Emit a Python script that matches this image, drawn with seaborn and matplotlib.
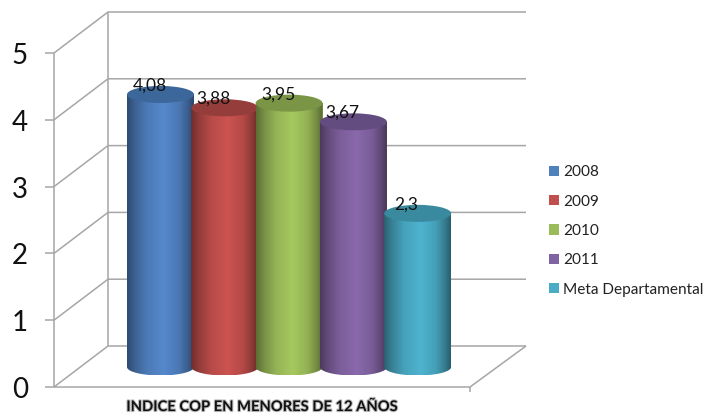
import numpy as np
import pandas as pd
import matplotlib
matplotlib.use('Agg')
import matplotlib.pyplot as plt
import matplotlib.patheffects as pe
from matplotlib.colors import LinearSegmentedColormap, to_rgb
from matplotlib.patches import Ellipse, PathPatch
from matplotlib.path import Path
import seaborn as sns

series = ['2008', '2009', '2010', '2011', 'Meta Departamental']
values = [4.08, 3.88, 3.95, 3.67, 2.3]
y_ticks = [0, 1, 2, 3, 4, 5]
title = 'INDICE COP EN MENORES DE 12 AÑOS'

legend_colors = ['#4F81BD', '#C0504D', '#9BBB59', '#8064A2', '#4BACC6']
body_colors = ['#5588CC', '#CC5350', '#A6C85F', '#8A69AC', '#4EB4D0']
top_colors = ['#3C679B', '#953D3B', '#7A9546', '#634D80', '#3A8A9F']

sns.set_theme(style='white')
plt.rcParams['font.family'] = ['Lato', 'DejaVu Sans']

W, H = 708, 416
PX_X = 64.3   # px per category
PX_Y = 66.8   # px per unit
X0 = 160.5    # px of first category
Y0 = 367      # px of value 0 at the cylinder base

fig = plt.figure(figsize=(W / 100, H / 100), dpi=100, facecolor='white')
ax = fig.add_axes([0, 0, 1, 1])

df = pd.DataFrame({'serie': series, 'valor': values})
sns.barplot(data=df, x='serie', y='valor', hue='serie', hue_order=series,
            palette=legend_colors, saturation=1, dodge=False, width=67 / PX_X,
            linewidth=0, zorder=2, legend=True, ax=ax)


def px_x(p):
    return (p - X0) / PX_X


def px_y(p):
    return (Y0 - p) / PX_Y


# wall and floor frame
grid_kw = dict(color='#A6A6A6', lw=1.1, zorder=1, solid_capstyle='butt')
front_l, back_l, back_r, front_r = px_x(54), px_x(108), px_x(526), px_x(470)
front_off, back_off = px_y(387), px_y(346)
for t in y_ticks:
    ax.plot([front_l, back_l, back_r], [t + front_off, t + back_off, t + back_off], **grid_kw)
    ax.plot([px_x(45), front_l], [t + front_off] * 2, **grid_kw)
    ax.text(px_x(20), t + front_off - 3 / PX_Y, str(t), fontsize=20, color='#111111',
            ha='center', va='center')
ax.plot([front_l, front_l], [y_ticks[0] + front_off, y_ticks[-1] + front_off], **grid_kw)
ax.plot([back_l, back_l], [y_ticks[0] + back_off, y_ticks[-1] + back_off], **grid_kw)
ax.plot([front_l, front_r, back_r], [front_off, front_off, back_off], **grid_kw)
ax.plot([front_r, front_r], [front_off, px_y(392)], **grid_kw)

# cylinders on top of the seaborn bars
semi = 8.5 / PX_Y
stops = [0, 0.12, 0.3, 0.55, 0.78, 0.92, 1]
shade = [0.55, 0.72, 0.9, 1.0, 0.88, 0.68, 0.52]
bars = [p for p in ax.patches if p.get_height() > 0]
bars = sorted(bars, key=lambda p: p.get_x())
for i, bar in enumerate(bars):
    x0, w, h = bar.get_x(), bar.get_width(), bar.get_height()
    cx = x0 + w / 2
    z = 3 + i
    rgb = np.array(to_rgb(body_colors[i]))
    cmap = LinearSegmentedColormap.from_list(
        'c%d' % i, [(s, tuple(rgb * f)) for s, f in zip(stops, shade)])
    t = np.linspace(np.pi, 2 * np.pi, 40)
    verts = [(x0, h)] + list(zip(cx + w / 2 * np.cos(t), semi * np.sin(t))) + [(x0 + w, h), (x0, h)]
    body = PathPatch(Path(verts), transform=ax.transData, fc='none', ec='none')
    ax.add_patch(body)
    im = ax.imshow(np.linspace(0, 1, 128)[None, :], cmap=cmap, aspect='auto',
                   extent=(x0, x0 + w, -semi, h), zorder=z, interpolation='bilinear')
    im.set_clip_path(body)
    ax.add_patch(Ellipse((cx, h), w, 2 * semi, fc=top_colors[i], ec='none', zorder=z + 0.5))

for i, v in enumerate(values):
    ax.text(i - 11 / PX_X, v + 9 / PX_Y, str(v).replace('.', ','), fontsize=12.5,
            color='#111111', ha='center', va='center', zorder=10)

ax.set_xlim(px_x(0), px_x(W))
ax.set_ylim(px_y(H), px_y(0))
ax.axis('off')

sns.move_legend(ax, loc='center left', bbox_to_anchor=(549 / W, 1 - 231 / H), title=None,
                frameon=False, fontsize=11.1, handlelength=0.64, handleheight=0.64,
                handletextpad=0.3, labelspacing=0.99, borderpad=0, borderaxespad=0)
for txt in ax.get_legend().get_texts():
    txt.set_color('#222222')

ax.text(px_x(262), px_y(407), title, fontsize=10.6, fontweight='bold', color='#111111',
        ha='center', va='center', zorder=10,
        path_effects=[pe.withStroke(linewidth=1.5, foreground='#BBBBBB')])

fig.savefig('out.png', dpi=100, facecolor='white')
